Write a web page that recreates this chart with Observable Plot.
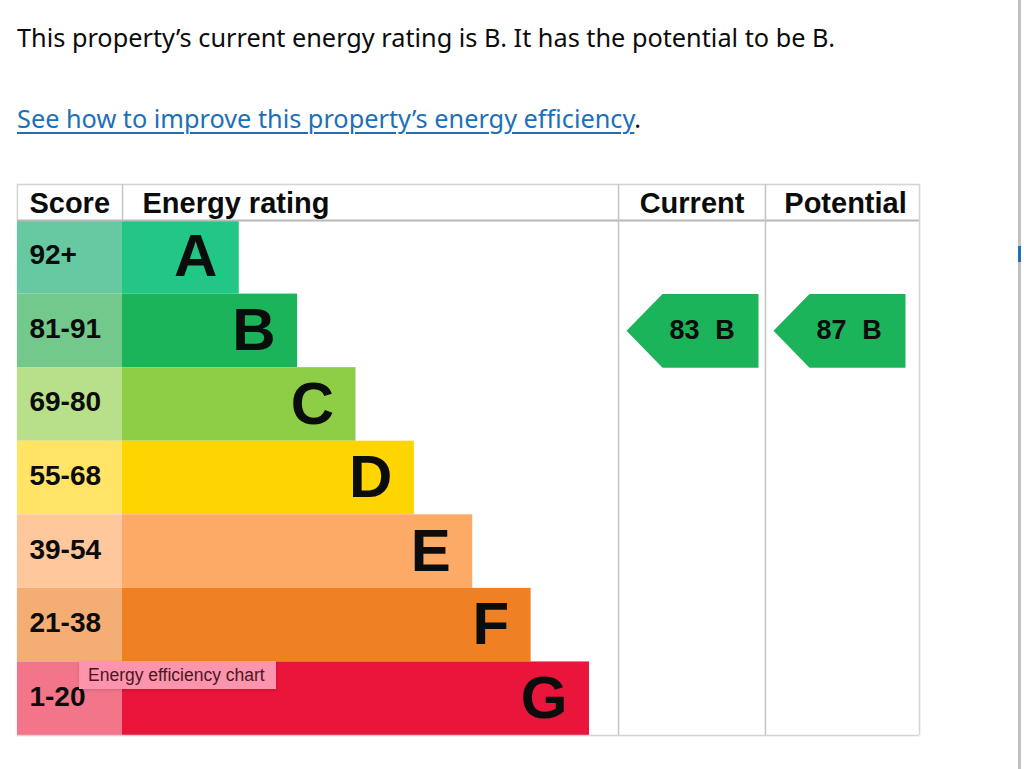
<!DOCTYPE html>
<html>
<head>
<meta charset="utf-8">
<script src="https://cdn.jsdelivr.net/npm/d3@7"></script>
<script src="https://cdn.jsdelivr.net/npm/@observablehq/plot@0.6"></script>
<style>
  html, body { margin: 0; padding: 0; background: #fff; }
  body { width: 1024px; height: 769px; position: relative; overflow: hidden; font-family: "Noto Sans", "Liberation Sans", sans-serif; color: #0b0c0c; }
  .line { position: absolute; left: 17px; white-space: nowrap; font-size: 26px; line-height: 26px; transform-origin: 0 50%; }
  #title { top: 24px; }
  #link { top: 105px; }
  #link a { color: #1d70b8; text-decoration: underline; text-decoration-thickness: 2px; text-underline-offset: 4px; }
  #chart { position: absolute; left: 0; top: 184px; }
  #tip { position: absolute; left: 79px; top: 661px; width: 197px; height: 28px; background: #fc94ad; color: #4b1620; font-family: "Liberation Sans", Arial, sans-serif; font-size: 17.5px; line-height: 28px; padding-left: 9px; box-sizing: border-box; box-shadow: 0 1px 3px rgba(0,0,0,0.15); z-index: 5; }
  #edge { position: absolute; left: 1018px; top: 0; width: 3px; height: 769px; background: #c2c2c2; z-index: 5; }
  #edgeblue { position: absolute; left: 1018px; top: 246px; width: 3px; height: 16px; background: #1d70b8; z-index: 6; }
</style>
</head>
<body>
<div id="title" class="line">This property’s current energy rating is B. It has the potential to be B.</div>
<div id="link" class="line"><a>See how to improve this property’s energy efficiency</a>.</div>
<div id="chart"></div>
<div id="tip">Energy efficiency chart</div>
<div id="edge"></div><div id="edgeblue"></div>
<script>
// ---- data ----
const bands = ["A", "B", "C", "D", "E", "F", "G"];
const scoreRanges = ["92+", "81-91", "69-80", "55-68", "39-54", "21-38", "1-20"];
const barLengths = [2, 3, 4, 5, 6, 7, 8];
const barColors = ["#22c785", "#1cb45a", "#8dce46", "#ffd500", "#fcaa65", "#ef8023", "#e9153b"];
const scoreColors = ["#66c9a1", "#72c98b", "#b8df89", "#ffe466", "#fec79c", "#f4ae74", "#f2758a"];
const headers = ["Score", "Energy rating", "Current", "Potential"];
const currentScore = 83, currentBand = "B";
const potentialScore = 87, potentialBand = "B";

// ---- layout (x in bar-length units, y in row units) ----
const unit = 58.375;               // px per bar-length unit
const px = v => v / unit;
const colEdges = [-1.8, 0, 8.497, 11.015, 13.654]; // Score | Energy rating | Current | Potential
const headerTop = -0.49;
const nRows = bands.length;

const rows = bands.map((b, i) => ({
  band: b, range: scoreRanges[i], len: barLengths[i],
  bar: barColors[i], cell: scoreColors[i], y1: i, y2: i + 1, ym: i + 0.5
}));

// header placement per column: [x, dx, anchor]
const headerPlace = [
  [colEdges[0], 12, "start"],
  [colEdges[1], 20, "start"],
  [(colEdges[2] + colEdges[3]) / 2, 0, "middle"],
  [(colEdges[3] + colEdges[4]) / 2, 3, "middle"]
];

const ratings = [
  {score: currentScore, band: currentBand, col: 2},
  {score: potentialScore, band: potentialBand, col: 3}
];
const arrowPts = [];
const arrowLabels = [];
ratings.forEach((r, k) => {
  const row = bands.indexOf(r.band);
  const tip = colEdges[r.col] + px(8);
  const shoulder = tip + px(36);
  const right = tip + px(132);
  [[tip, row + 0.5], [shoulder, row], [right, row], [right, row + 1], [shoulder, row + 1], [tip, row + 0.5]]
    .forEach(([x, y]) => arrowPts.push({k, x, y, fill: barColors[row]}));
  arrowLabels.push({x: shoulder + px(7), y: row + 0.5, text: `${r.score}\u2002\u200a${r.band}`});
});

const ink = "#0b0c0c";
const font = "'Liberation Sans', Arial, Helvetica, sans-serif";

const chart = Plot.plot({
  width: 1024,
  height: 560,
  marginLeft: 122,
  marginRight: 1024 - 589,
  marginTop: 36,
  marginBottom: 9,
  x: {domain: [0, 8], axis: null},
  y: {domain: [0, nRows], reverse: true, axis: null},
  color: {type: "identity"},
  style: {fontFamily: font, background: "transparent", color: ink, overflow: "visible"},
  marks: [
    // score cells
    Plot.rect(rows, {x1: colEdges[0], x2: colEdges[1], y1: "y1", y2: "y2", fill: "cell"}),
    // bars
    Plot.rect(rows, {x1: 0, x2: "len", y1: "y1", y2: "y2", fill: "bar"}),
    // grid / borders
    Plot.ruleY([headerTop], {x1: colEdges[0], x2: colEdges[4], stroke: "#d4d4d4", strokeWidth: 1.5}),
    Plot.ruleY([nRows], {x1: colEdges[0], x2: colEdges[4], stroke: "#d4d4d4", strokeWidth: 1.5}),
    Plot.ruleY([0], {x1: colEdges[0], x2: colEdges[4], stroke: "#b8b8b8", strokeWidth: 2}),
    Plot.ruleX([colEdges[0]], {y1: headerTop, y2: 0, stroke: "#d4d4d4", strokeWidth: 1.5}),
    Plot.ruleX([colEdges[1]], {y1: headerTop, y2: 0, stroke: "#c4c4c4", strokeWidth: 1.5}),
    Plot.ruleX([colEdges[2], colEdges[3]], {y1: headerTop, y2: nRows, stroke: "#c4c4c4", strokeWidth: 1.5}),
    Plot.ruleX([colEdges[4]], {y1: headerTop, y2: nRows, stroke: "#d4d4d4", strokeWidth: 1.5}),
    // header texts
    ...headers.map((h, i) => Plot.text([h], {
      x: headerPlace[i][0], y: headerTop / 2, text: d => d, dx: headerPlace[i][1],
      textAnchor: headerPlace[i][2], fontSize: 29, fontWeight: "bold", fill: ink, dy: 1
    })),
    // score labels
    Plot.text(rows, {x: colEdges[0], y: "ym", text: "range", dx: 12, dy: -2, textAnchor: "start",
      fontSize: 28, fontWeight: "bold", fill: ink}),
    // band letters
    Plot.text(rows, {x: "len", y: "ym", text: "band", dx: -22, textAnchor: "end",
      fontSize: 60, fontWeight: "bold", fill: ink}),
    // current / potential arrows
    Plot.line(arrowPts, {x: "x", y: "y", z: "k", fill: "fill", stroke: "none", curve: "linear"}),
    Plot.text(arrowLabels, {x: "x", y: "y", text: "text", textAnchor: "start",
      fontSize: 27, fontWeight: "bold", fill: ink})
  ]
});
document.getElementById("chart").appendChild(chart);

// fit the intro text widths to the reference line lengths
function fit(id, target) {
  const el = document.getElementById(id);
  const w = el.getBoundingClientRect().width;
  const s = target / w;
  el.style.transform = `scaleX(${s})`;
  return s;
}
const s = fit("title", 818);
document.getElementById("link").style.transform = `scaleX(${s})`;
</script>
</body>
</html>
